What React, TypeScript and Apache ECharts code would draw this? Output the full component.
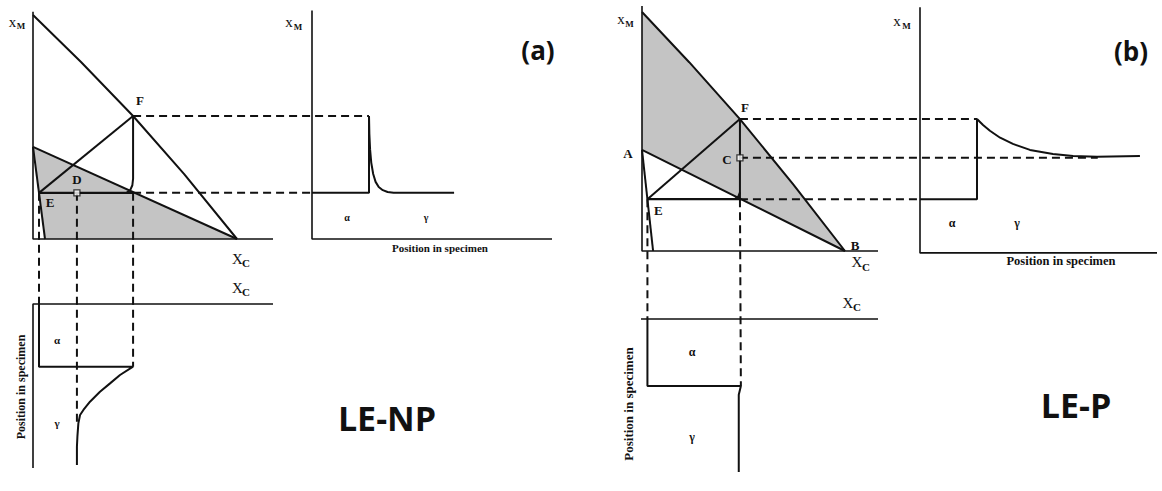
import React, { useEffect, useRef } from "react";
import * as echarts from "echarts";

// ---------- (a) LE-NP : isothermal section, compositions as [xC, xM] ----------
const aBoundary = [[0, 1], [0.2, 0.79], [0.417, 0.549], [0.63, 0.29], [0.85, 0]];
const aGammaSolvus = [[0, 0.411], [0.85, 0]];
const aAlphaSolvus = [[0, 0.411], [0.05, 0]];
const aShade = [[0, 0.411], [0.85, 0], [0.05, 0]];
const aTie = [[0.025, 0.206], [0.417, 0.206]];
const aEF = [[0.025, 0.206], [0.417, 0.549]];
const aFLeg = [[0.417, 0.549], [0.417, 0.27], [0.414, 0.24], [0.405, 0.218], [0.39, 0.206]];
const aPointD = [0.183, 0.206];
// xM across the specimen (position, xM)
const aMProfile = [
  [0, 0.206], [0.2375, 0.206], [0.2375, 0.549], [0.239, 0.47], [0.242, 0.4], [0.247, 0.34],
  [0.255, 0.29], [0.265, 0.255], [0.278, 0.232], [0.295, 0.218], [0.315, 0.21], [0.34, 0.206], [0.592, 0.206],
];
// xC across the specimen (xC, position)
const aCProfile = [
  [0.025, 0], [0.025, 0.382], [0.417, 0.382], [0.3625, 0.433], [0.321, 0.484], [0.279, 0.535],
  [0.2375, 0.596], [0.21, 0.646], [0.196, 0.677], [0.189, 0.728], [0.185, 0.809], [0.183, 0.87], [0.183, 0.982],
];

// ---------- (b) LE-P ----------
const bBoundary = [[0, 1], [0.2, 0.79], [0.415, 0.552], [0.64, 0.28], [0.86, 0]];
const bGammaSolvus = [[0, 0.423], [0.86, 0]];
const bAlphaSolvus = [[0, 0.423], [0.047, 0]];
const bShade = [[0, 1], [0.2, 0.79], [0.415, 0.552], [0.64, 0.28], [0.86, 0], [0, 0.423]];
const bTie = [[0.023, 0.217], [0.415, 0.217]];
const bEF = [[0.023, 0.217], [0.415, 0.552]];
const bFLeg = [[0.415, 0.552], [0.415, 0.217]];
const bHook = [[0.415, 0.245], [0.408, 0.228], [0.395, 0.219]];
const bPointC = [0.415, 0.39];
const bMProfile = [
  [0, 0.217], [0.2405, 0.217], [0.2405, 0.552], [0.266, 0.527], [0.295, 0.503], [0.338, 0.474],
  [0.392, 0.448], [0.464, 0.423], [0.561, 0.406], [0.646, 0.397], [0.747, 0.394], [0.928, 0.397],
];
const bCProfile = [[0.023, 0], [0.023, 0.39], [0.419, 0.39], [0.41, 0.44], [0.41, 0.89]];

const INK = "#111";
const SHADE = "#c4c4c4";
const SERIF = '"Liberation Serif", "DejaVu Serif", serif';
const SANS = '"Open Sans", "Liberation Sans", sans-serif';

// grid indices
const A_PHASE = 0, A_MPROF = 1, A_CPROF = 2, B_PHASE = 3, B_MPROF = 4, B_CPROF = 5;

const grids = [
  { left: 33, top: 15, width: 240, height: 224 },
  { left: 312, top: 15, width: 240, height: 224 },
  { left: 33, top: 304, width: 240, height: 164 },
  { left: 642, top: 12, width: 236, height: 239 },
  { left: 920, top: 12, width: 237, height: 239 },
  { left: 642, top: 319, width: 236, height: 172 },
];

const line = (g: number, data: number[][], width = 2, extra: any = {}) => ({
  type: "line", xAxisIndex: g, yAxisIndex: g, data, symbol: "none", clip: false, silent: true,
  lineStyle: { color: INK, width }, z: 3, ...extra,
});

const shade = (g: number, pts: number[][]) => ({
  type: "custom", coordinateSystem: "cartesian2d", xAxisIndex: g, yAxisIndex: g, data: [[0, 0]],
  silent: true, z: 1,
  renderItem: (_p: any, api: any) => ({
    type: "polygon", shape: { points: pts.map((p) => api.coord(p)) }, style: { fill: SHADE },
  }),
});

const marker = (g: number, p: number[]) => ({
  type: "scatter", xAxisIndex: g, yAxisIndex: g, data: [p], symbol: "rect", symbolSize: 6,
  silent: true, z: 6, itemStyle: { color: "#fff", borderColor: INK, borderWidth: 1.3 },
});

const option: any = {
  animation: false,
  backgroundColor: "#fff",
  grid: grids.map((g) => ({ ...g, containLabel: false })),
  xAxis: grids.map((_, i) => ({ type: "value", gridIndex: i, min: 0, max: 1, show: false })),
  yAxis: grids.map((_, i) => ({
    type: "value", gridIndex: i, min: 0, max: 1, show: false, inverse: i === A_CPROF || i === B_CPROF,
  })),
  series: [
    // (a) phase diagram
    shade(A_PHASE, aShade),
    line(A_PHASE, [[0, 1.015], [0, 0], [1, 0]], 1.6),
    line(A_PHASE, aBoundary, 2),
    line(A_PHASE, aGammaSolvus, 2),
    line(A_PHASE, aAlphaSolvus, 2),
    line(A_PHASE, aTie, 2.2),
    line(A_PHASE, aEF, 2),
    line(A_PHASE, aFLeg, 2),
    marker(A_PHASE, aPointD),
    // (a) xM profile
    line(A_MPROF, [[0, 1.02], [0, 0], [1, 0]], 1.6),
    line(A_MPROF, aMProfile, 2),
    // (a) xC profile
    line(A_CPROF, [[1, 0], [0, 0], [0, 1]], 1.6),
    line(A_CPROF, aCProfile, 2),
    // (b) phase diagram
    shade(B_PHASE, bShade),
    line(B_PHASE, [[0, 1.025], [0, 0], [1, 0]], 1.6),
    line(B_PHASE, bBoundary, 2),
    line(B_PHASE, bGammaSolvus, 2),
    line(B_PHASE, bAlphaSolvus, 2),
    line(B_PHASE, bTie, 2.2),
    line(B_PHASE, bEF, 2),
    line(B_PHASE, bFLeg, 2),
    line(B_PHASE, bHook, 2),
    marker(B_PHASE, bPointC),
    // (b) xM profile
    line(B_MPROF, [[0, 1.02], [0, -0.008], [1, -0.008]], 1.6),
    line(B_MPROF, bMProfile, 2),
    // (b) xC profile
    line(B_CPROF, [[1, 0], [-0.008, 0], [-0.008, 1]], 1.6),
    line(B_CPROF, bCProfile, 2),
  ],
};

const text = (x: number, y: number, t: string, font: string, extra: any = {}) => ({
  type: "text", x, y, z: 10, silent: true, ...extra,
  style: {
    text: t, font, fill: INK, align: "center", verticalAlign: "middle",
    textAlign: "center", textVerticalAlign: "middle",
  },
});

// symbol with a subscript, e.g. x_M
const subbed = (x: number, y: number, main: string, sub: string, size: number, subSize: number, dx: number, dy: number) => [
  text(x, y, main, `${size}px ${SERIF}`),
  text(x + dx, y + dy, sub, `bold ${subSize}px ${SERIF}`),
];

export default function App() {
  const ref = useRef<HTMLDivElement>(null);
  useEffect(() => {
    const chart = echarts.init(ref.current!, null, { renderer: "svg" });
    chart.setOption(option);
    const px = (g: number, p: number[]) => chart.convertToPixel({ gridIndex: g }, p) as number[];

    const dash = (g1: number, p1: number[], g2: number, p2: number[]) => {
      const a = px(g1, p1);
      const b = px(g2, p2);
      return {
        type: "line", z: 4, silent: true,
        shape: { x1: a[0], y1: a[1], x2: b[0], y2: b[1] },
        style: { stroke: INK, lineWidth: 2, lineDash: [8, 5] },
      };
    };
    const pointLabel = (g: number, p: number[], t: string, dx: number, dy: number) => {
      const q = px(g, p);
      return text(q[0] + dx, q[1] + dy, t, `bold 13px ${SERIF}`);
    };

    const aTieEnd = aTie[1];
    const bTieEnd = bTie[1];
    const graphic: any[] = [
      // (a) connectors
      dash(A_PHASE, aBoundary[2], A_MPROF, aMProfile[2]),
      dash(A_PHASE, aTieEnd, A_MPROF, aMProfile[0]),
      dash(A_PHASE, aTie[0], A_CPROF, aCProfile[0]),
      dash(A_PHASE, aPointD, A_CPROF, [aPointD[0], 0.72]),
      dash(A_PHASE, aTieEnd, A_CPROF, aCProfile[2]),
      // (b) connectors
      dash(B_PHASE, bBoundary[2], B_MPROF, bMProfile[2]),
      dash(B_PHASE, bPointC, B_MPROF, [0.75, bPointC[1]]),
      dash(B_PHASE, bTieEnd, B_MPROF, bMProfile[0]),
      dash(B_PHASE, bTie[0], B_CPROF, bCProfile[0]),
      dash(B_PHASE, bTieEnd, B_CPROF, bCProfile[2]),
      // point labels
      pointLabel(A_PHASE, aBoundary[2], "F", 7, -16),
      pointLabel(A_PHASE, aTie[0], "E", 11, 10),
      pointLabel(A_PHASE, aPointD, "D", 0, -13),
      pointLabel(B_PHASE, bBoundary[2], "F", 5, -12),
      pointLabel(B_PHASE, bTie[0], "E", 11, 11),
      pointLabel(B_PHASE, bPointC, "C", -13, 2),
      pointLabel(B_PHASE, bGammaSolvus[0], "A", -14, 4),
      pointLabel(B_PHASE, bGammaSolvus[1], "B", 10, -6),
      // axis symbols
      ...subbed(12.5, 21.5, "x", "M", 15, 9, 8.5, 4),
      ...subbed(289, 22, "x", "M", 15, 9, 9, 5),
      ...subbed(621, 19, "x", "M", 15, 9, 8.5, 5),
      ...subbed(897, 21, "x", "M", 15, 9, 9.5, 5),
      ...subbed(237.5, 258.5, "X", "C", 15, 11, 8.5, 4),
      ...subbed(237.5, 287.5, "X", "C", 15, 11, 8.5, 4),
      ...subbed(857, 262, "X", "C", 15, 11, 9, 5),
      ...subbed(848, 303, "X", "C", 15, 11, 9, 4),
      // axis titles
      text(440, 248, "Position in specimen", `bold 11px ${SERIF}`),
      text(1061, 261, "Position in specimen", `bold 12.5px ${SERIF}`),
      text(21, 387, "Position in specimen", `bold 12px ${SERIF}`, { rotation: Math.PI / 2 }),
      text(628, 404, "Position in specimen", `bold 13px ${SERIF}`, { rotation: Math.PI / 2 }),
      // phase labels
      text(347, 217, "α", `bold 10px ${SERIF}`),
      text(426, 217, "γ", `bold 10px ${SERIF}`),
      text(57, 340, "α", `bold 11px ${SERIF}`),
      text(57, 423, "γ", `bold 11px ${SERIF}`),
      text(952, 223, "α", `bold 12px ${SERIF}`),
      text(1017, 223, "γ", `bold 12px ${SERIF}`),
      text(692, 352, "α", `bold 12px ${SERIF}`),
      text(692, 437, "γ", `bold 12px ${SERIF}`),
      // panel titles
      text(538, 50, "(a)", `bold 26px ${SANS}`),
      text(1131, 51, "(b)", `bold 26px ${SANS}`),
      text(387, 418, "LE-NP", `bold 34px ${SANS}`),
      text(1076, 405, "LE-P", `bold 34px ${SANS}`),
    ];
    chart.setOption({ graphic });
    return () => chart.dispose();
  }, []);
  return (
    <div
      ref={ref}
      style={{ position: "absolute", left: 0, top: 0, width: 1162, height: 491, background: "#fff" }}
    />
  );
}
